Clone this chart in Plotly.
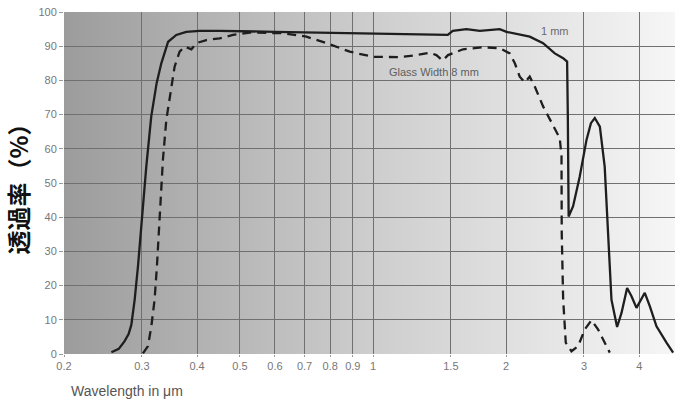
"""
Transmission spectrum of glass, 1 mm vs 8 mm thickness
"""

import base64
import numpy as np
import plotly.graph_objects as go

# 1 mm thickness (solid line)
wl_1mm = [0.256, 0.266, 0.274, 0.28, 0.284, 0.289, 0.294, 0.299, 0.302, 0.307,
          0.315, 0.324, 0.332, 0.344, 0.359, 0.378, 0.405, 0.45, 0.6, 1.0,
          1.476, 1.515, 1.627, 1.744, 1.935, 2.004, 2.262, 2.425, 2.577, 2.692,
          2.748, 2.758, 2.763, 2.77, 2.835, 2.935, 3.04, 3.111, 3.174, 3.259,
          3.342, 3.402, 3.462, 3.565, 3.648, 3.756, 3.843, 3.944, 4.118, 4.227,
          4.377, 4.611, 4.773]
tr_1mm = [0.5, 1.5, 3.7, 5.8, 8.5, 15.9, 25.6, 38.0, 45.1, 54.8,
          69.4, 79.2, 85.0, 91.3, 93.3, 94.2, 94.5, 94.5, 94.2, 93.8,
          93.3, 94.5, 95.0, 94.5, 95.0, 94.2, 92.8, 90.9, 87.9, 86.5,
          85.5, 70.0, 50.0, 40.2, 43.2, 51.9, 62.6, 67.5, 69.0, 66.5,
          54.8, 35.4, 15.9, 7.9, 12.0, 19.3, 16.9, 13.5, 17.9, 14.0,
          8.1, 3.3, 0.4]

# 8 mm thickness (dashed line)
wl_8mm = [0.3017, 0.3097, 0.3152, 0.3206, 0.3245, 0.3279, 0.3303, 0.3348, 0.3408, 0.3479,
          0.3558, 0.3652, 0.375, 0.3883, 0.3985, 0.4198, 0.4498, 0.4823, 0.526, 0.6257,
          0.7068, 0.7845, 0.8857, 1.0, 1.149, 1.254, 1.344, 1.391, 1.436, 1.478,
          1.598, 1.774, 1.935, 2.039, 2.093, 2.147, 2.204, 2.262, 2.322, 2.425,
          2.533, 2.645, 2.669, 2.672, 2.692, 2.729, 2.811, 2.91, 3.013, 3.12,
          3.228, 3.344, 3.432]
tr_8mm = [0.2, 2.3, 8.1, 15.9, 25.6, 35.4, 44.2, 56.8, 68.5, 76.3,
          84.0, 88.4, 89.9, 89.1, 90.9, 91.8, 92.3, 93.3, 94.0, 93.8,
          92.8, 90.9, 88.4, 86.9, 86.8, 87.4, 88.1, 87.4, 85.8, 87.4,
          89.1, 89.7, 89.4, 87.9, 85.0, 81.1, 79.4, 81.1, 78.2, 72.4,
          67.5, 63.1, 57.8, 35.4, 15.9, 3.3, 0.8, 2.3, 7.2, 9.9,
          7.2, 3.3, 0.4]

x_ticks = [0.2, 0.3, 0.4, 0.5, 0.6, 0.7, 0.8, 0.9, 1, 1.5, 2, 3, 4]
x_tick_text = ["0.2", "0.3", "0.4", "0.5", "0.6", "0.7", "0.8", "0.9", "1", "1.5", "2", "3", "4"]
y_ticks = list(range(0, 101, 10))

fig = go.Figure()

fig.add_trace(go.Scatter(
    x=wl_1mm, y=tr_1mm, mode="lines", name="1 mm",
    line=dict(color="#1e1e1e", width=2.3)
))
fig.add_trace(go.Scatter(
    x=wl_8mm, y=tr_8mm, mode="lines", name="8 mm",
    line=dict(color="#1e1e1e", width=2.3, dash="9px,6px")
))

# grey-to-white background gradient as an svg image under the grid
svg = ('<svg xmlns="http://www.w3.org/2000/svg" width="200" height="20" viewBox="0 0 200 20" '
       'preserveAspectRatio="none"><defs><linearGradient id="g" x1="0" x2="1" y1="0" y2="0">'
       '<stop offset="0" stop-color="#9c9c9c"/><stop offset="0.5" stop-color="#cdcdcd"/>'
       '<stop offset="1" stop-color="#f6f6f6"/></linearGradient></defs>'
       '<rect width="200" height="20" fill="url(#g)"/></svg>')
svg_src = "data:image/svg+xml;base64," + base64.b64encode(svg.encode()).decode()
fig.add_layout_image(
    source=svg_src, xref="paper", yref="paper", x=0, y=1, sizex=1, sizey=1,
    xanchor="left", yanchor="top", sizing="stretch", layer="below"
)

fig.add_annotation(x=np.log10(2.577), y=94.4, text="1 mm", showarrow=False,
                   font=dict(size=11, color="#6a6a6a"))
fig.add_annotation(x=np.log10(1.372), y=82.6, text="Glass Width 8 mm", showarrow=False,
                   font=dict(size=11, color="#5e5e5e"))
fig.add_annotation(xref="paper", yref="paper", x=0.008, y=-0.108, xanchor="left", yanchor="middle",
                   text="Wavelength in μm", showarrow=False,
                   font=dict(size=14, color="#555555"))

fig.update_xaxes(
    type="log", range=[np.log10(0.2), np.log10(4.82)],
    tickvals=x_ticks, ticktext=x_tick_text,
    showgrid=True, gridcolor="#707070", gridwidth=1,
    ticks="outside", ticklen=2, tickcolor="#999999",
    tickfont=dict(size=11, color="#777777"),
    showline=False, zeroline=False
)
fig.update_yaxes(
    range=[0, 100], tickvals=y_ticks,
    showgrid=True, gridcolor="#707070", gridwidth=1,
    ticks="outside", ticklen=4, tickcolor="#999999",
    tickfont=dict(size=11, color="#777777"),
    showline=False, zeroline=False,
    title=dict(text="<b>透過率（%）</b>", standoff=13,
               font=dict(size=24, color="#111111", family="Noto Sans CJK JP"))
)

fig.update_layout(
    width=675, height=400,
    margin=dict(l=64, r=0, t=12, b=46),
    paper_bgcolor="white", plot_bgcolor="rgba(0,0,0,0)",
    font=dict(family="Arial, Liberation Sans, sans-serif"),
    showlegend=False
)

fig.write_html("out.html", config={"displayModeBar": False},
               post_script="document.body.style.margin='0';")
